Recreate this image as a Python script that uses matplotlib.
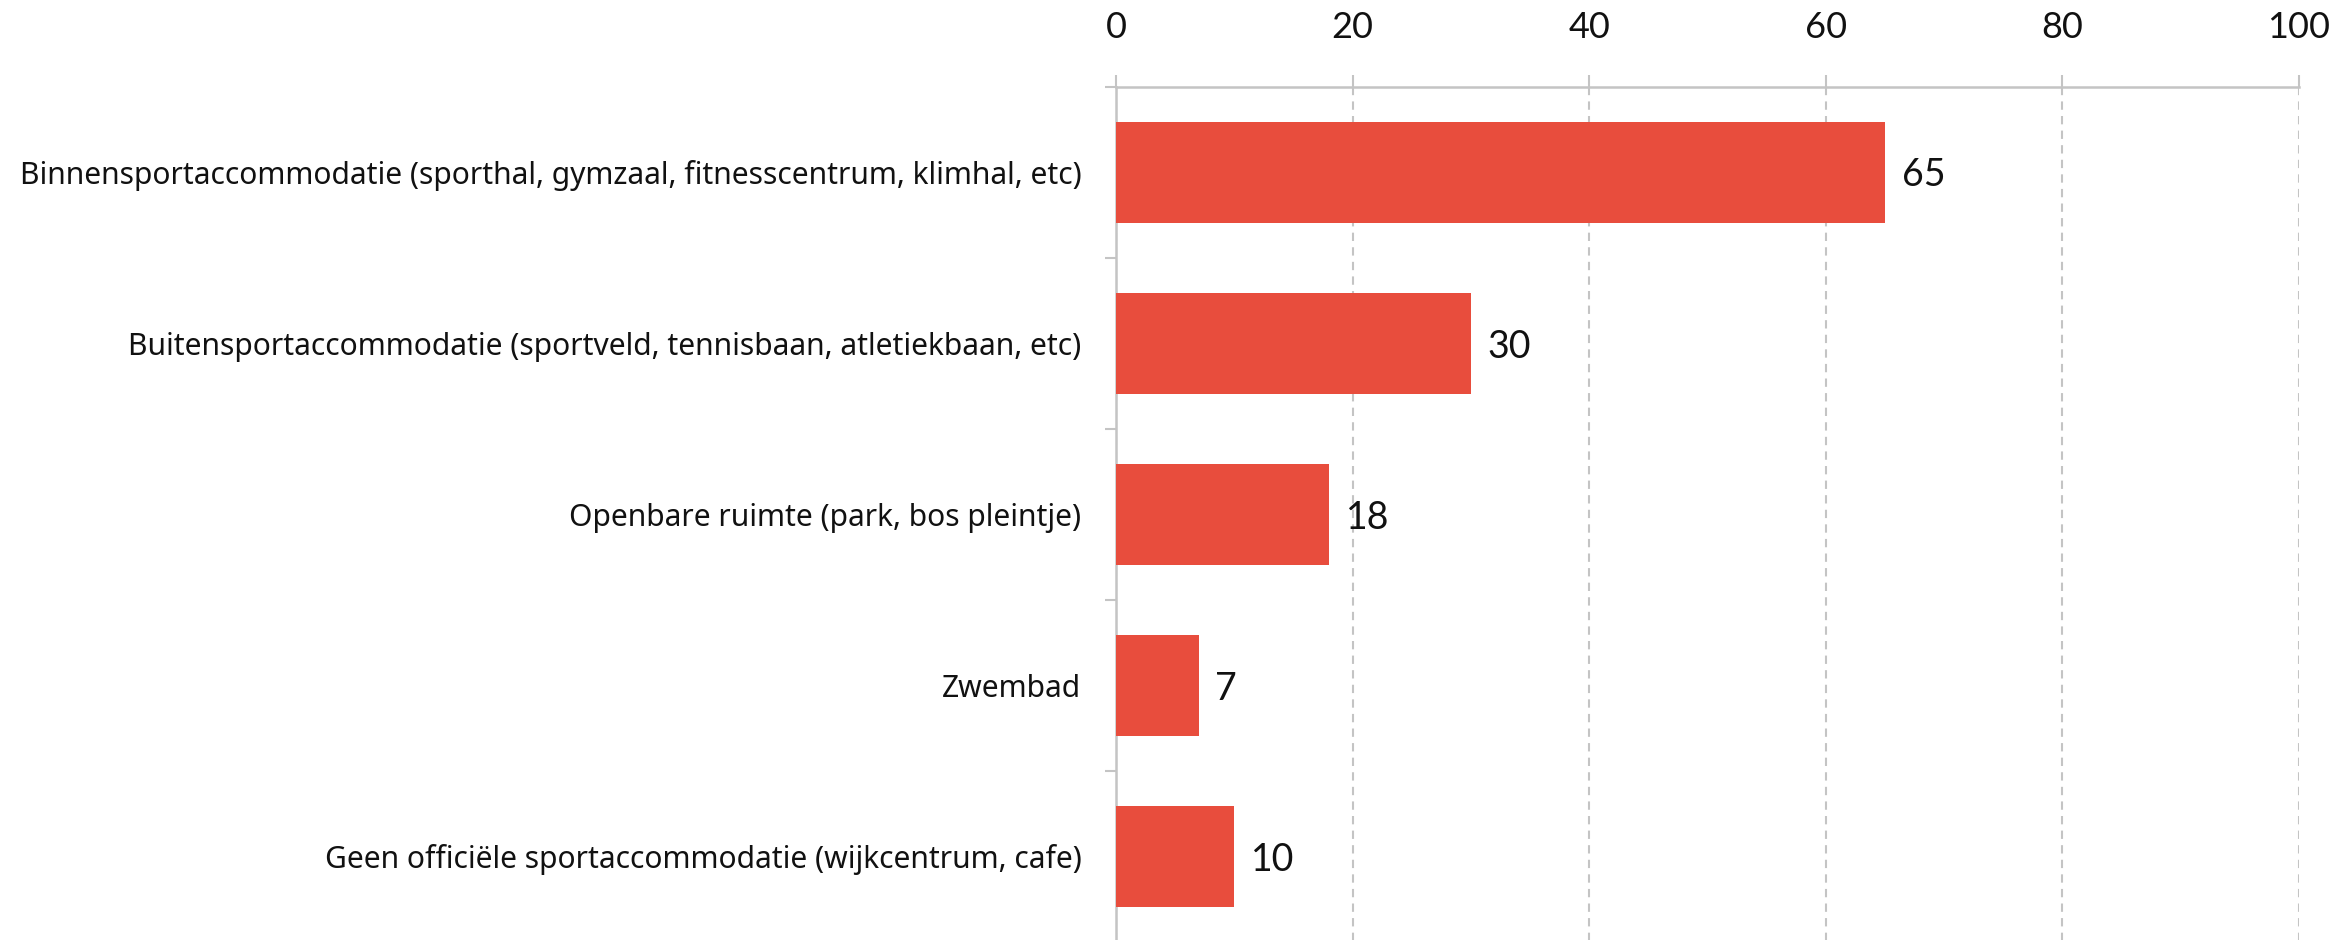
import matplotlib
matplotlib.use("Agg")
import matplotlib.pyplot as plt
import numpy as np

categories = [
    "Binnensportaccommodatie (sporthal, gymzaal, fitnesscentrum, klimhal, etc)",
    "Buitensportaccommodatie (sportveld, tennisbaan, atletiekbaan, etc)",
    "Openbare ruimte (park, bos pleintje)",
    "Zwembad",
    "Geen officiële sportaccommodatie (wijkcentrum, cafe)",
]
values = [65, 30, 18, 7, 10]
xticks = [0, 20, 40, 60, 80, 100]

plt.rcParams['font.family'] = ['Lato', 'DejaVu Sans']

fig = plt.figure(figsize=(23.38, 9.40), dpi=100)
ax = fig.add_axes([1116/2338, 1 - 942/940, (2299-1116)/2338, (942-86.5)/940])

y = np.arange(len(categories))
bars = ax.barh(y, values, height=0.59, color="#e84d3d", zorder=3)
ax.set_ylim(len(categories) - 0.5, -0.5)
ax.set_xlim(0, 100)

for yi, v in zip(y, values):
    ax.text(v + 1.4, yi + 0.02, f"{v}", va="center", ha="left", fontsize=27, color="#111111")

ax.xaxis.tick_top()
ax.set_xticks(xticks)
ax.set_xticklabels([str(t) for t in xticks], fontsize=26, color="#111111")
ax.tick_params(axis="x", which="major", length=8.4, width=1.5, color="#c4c4c4", pad=22)
ax.grid(axis="x", linestyle=(0, (4, 3)), color="#c4c4c4", linewidth=1.5, zorder=0)

ax.set_yticks(y)
ax.set_yticklabels(categories, fontsize=21.6, color="#111111", family=['Noto Sans', 'DejaVu Sans'])
ax.tick_params(axis="y", which="major", length=0, pad=25)
ax.set_yticks(np.arange(len(categories) + 1) - 0.5, minor=True)
ax.tick_params(axis="y", which="minor", length=7.9, width=1.5, color="#c4c4c4")

for s in ["right", "bottom"]:
    ax.spines[s].set_visible(False)
for s in ["top", "left"]:
    ax.spines[s].set_color("#c4c4c4")
    ax.spines[s].set_linewidth(1.8)

fig.savefig("out.png", dpi=100)
